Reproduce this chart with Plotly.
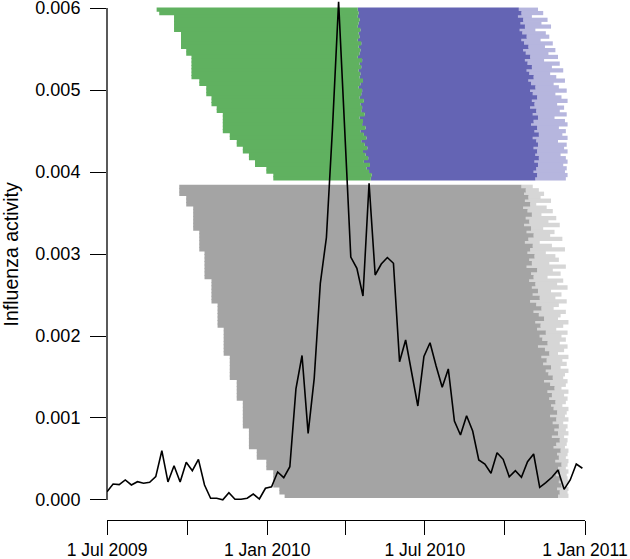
import pandas as pd
import plotly.graph_objects as go

# ---------------- data ----------------
# weekly influenza activity (starting 1 Jul 2009)
flu_start = "2009-07-01"
flu_values = [
    0.000101, 0.000195, 0.000187, 0.000244, 0.000183, 0.000223, 0.000204, 0.000216,
    0.000284, 0.000601, 0.000220, 0.000418, 0.000220, 0.000460, 0.000357, 0.000496,
    0.000183, 0.000021, 0.000021, 0.000002, 0.000089, 0.000009, 0.000009, 0.000021,
    0.000073, 0.000012, 0.000143, 0.000162, 0.000341, 0.000272, 0.000406, 0.001354,
    0.001762, 0.000813, 0.001484, 0.002643, 0.003201, 0.004537, 0.006077, 0.004573,
    0.002963, 0.002826, 0.002488, 0.003862, 0.002744, 0.002878, 0.002957, 0.002887,
    0.001687, 0.001951, 0.001565, 0.001146, 0.001750, 0.001918, 0.001634, 0.001374,
    0.001598, 0.000963, 0.000793, 0.001028, 0.000841, 0.000488, 0.000439, 0.000326,
    0.000577, 0.000496, 0.000284, 0.000357, 0.000277, 0.000467, 0.000561, 0.000155,
    0.000211, 0.000277, 0.000366, 0.000130, 0.000244, 0.000439, 0.000387,
]

# day offsets below are counted from this origin
day_origin = "2009-07-01"

# gray forecast bars: start date of each step and number of rows in it (top -> bottom)
gray_step_start = ["2009-09-22", "2009-09-30", "2009-10-08", "2009-10-15", "2009-10-21",
                   "2009-10-29", "2009-11-05", "2009-11-12", "2009-11-19", "2009-11-27",
                   "2009-12-04", "2009-12-11", "2009-12-20", "2009-12-31", "2010-01-08",
                   "2010-01-15", "2010-01-21"]
gray_step_rows = [3, 3, 7, 6, 8, 7, 7, 8, 7, 6, 8, 6, 3, 3, 5, 2, 1]
gray_dark_end = [
    476, 481, 479, 484, 480, 486, 478, 483, 488, 481,
    485, 479, 487, 482, 490, 484, 480, 489, 486, 483,
    491, 485, 488, 482, 494, 487, 490, 485, 492, 488,
    495, 489, 497, 486, 493, 499, 490, 496, 502, 492,
    498, 494, 504, 497, 500, 506, 495, 503, 508, 499,
    505, 501, 510, 504, 507, 512, 502, 509, 514, 506,
    511, 508, 515, 510, 513, 517, 509, 516, 512, 519,
    514, 518, 511, 520, 516, 513, 521, 517, 519, 515,
    522, 518, 520, 516, 521, 519, 522, 517, 520, 518]
gray_light_end = [
    489, 496, 502, 498, 510, 493, 505, 512, 499, 516,
    507, 520, 501, 514, 509, 523, 497, 511, 526, 504,
    515, 519, 508, 527, 512, 521, 506, 524, 517, 529,
    510, 522, 515, 528, 519, 513, 527, 521, 518, 530,
    524, 516, 529, 522, 527, 520, 529, 525, 518, 530,
    523, 528, 521, 530, 526, 524, 529, 527, 522, 530,
    525, 529, 527, 523, 530, 528, 526, 530, 524, 529,
    527, 530, 525, 529, 528, 526, 530, 529, 527, 530,
    529, 527, 530, 528, 529, 530, 528, 530, 529, 530]

# green / purple bars
green_step_start = ["2009-08-27", "2009-08-30", "2009-09-16", "2009-09-24", "2009-09-30",
                    "2009-10-06", "2009-10-15", "2009-10-23", "2009-10-29", "2009-11-04",
                    "2009-11-11", "2009-11-19", "2009-11-27", "2009-12-04", "2009-12-11",
                    "2009-12-18", "2009-12-31", "2010-01-08", "2010-01-15"]
green_step_rows = [1, 1, 5, 5, 2, 7, 2, 3, 3, 2, 6, 2, 2, 2, 2, 2, 2, 2, 1]
green_end = [
    288, 289, 288, 290, 289, 288, 291, 289, 290, 288,
    292, 289, 291, 290, 288, 293, 290, 292, 289, 291,
    290, 294, 291, 289, 293, 292, 290, 295, 291, 293,
    292, 296, 290, 294, 293, 297, 291, 295, 298, 292,
    296, 299, 294, 297, 300, 295, 302, 298, 301, 304, 303]
purple_dark_end = [
    473, 476, 472, 478, 475, 480, 474, 477, 482, 476,
    479, 484, 478, 481, 486, 480, 483, 488, 482, 485,
    490, 484, 487, 492, 486, 489, 494, 488, 491, 486,
    493, 489, 495, 490, 487, 494, 491, 496, 489, 493,
    495, 490, 494, 492, 496, 491, 495, 493, 490, 494, 492]
purple_light_end = [
    495, 501, 488, 506, 499, 510, 492, 504, 508, 498,
    512, 503, 515, 507, 518, 502, 520, 511, 524, 509,
    516, 526, 513, 519, 528, 515, 522, 529, 517, 525,
    520, 528, 514, 526, 529, 519, 527, 523, 529, 518,
    528, 525, 529, 521, 527, 529, 524, 528, 526, 529, 527]

# vertical extents of the two bar blocks (activity units)
gray_band = (0.00003, 0.00384)
green_band = (0.00386, 0.00600)

x_tick_vals = ["2009-07-01", "2009-10-01", "2010-01-01", "2010-04-01",
               "2010-07-01", "2010-10-01", "2011-01-01"]
x_tick_text = ["1 Jul 2009", "", "1 Jan 2010", "", "1 Jul 2010", "", "1 Jan 2011"]
y_tick_vals = [0.000, 0.001, 0.002, 0.003, 0.004, 0.005, 0.006]

# ---------------- build ----------------
origin = pd.Timestamp(day_origin)


def expand(starts, counts):
    out = []
    for s, c in zip(starts, counts):
        out += [pd.Timestamp(s)] * c
    return out


def days_to_ts(lst):
    return [origin + pd.Timedelta(days=d) for d in lst]


def rows_y(band, n):
    lo, hi = band
    h = (hi - lo) / n
    return [hi - (i + 0.5) * h for i in range(n)], h


def ms(a, b):
    return [(bb - aa).total_seconds() * 1000 for aa, bb in zip(a, b)]


def hbar(y, start, end, h, color):
    return go.Bar(orientation="h", y=y, base=[s.strftime("%Y-%m-%d %H:%M") for s in start],
                  x=ms(start, end), width=h * 1.25, marker=dict(color=color, line=dict(width=0)),
                  hoverinfo="skip", showlegend=False)


fig = go.Figure()

g_start = expand(gray_step_start, gray_step_rows)
g_y, g_h = rows_y(gray_band, len(g_start))
g_dark = days_to_ts(gray_dark_end)
g_light = days_to_ts(gray_light_end)
fig.add_trace(hbar(g_y, g_dark, g_light, g_h, "#d6d6d6"))
fig.add_trace(hbar(g_y, g_start, g_dark, g_h, "#a4a4a4"))

gr_start = expand(green_step_start, green_step_rows)
gr_y, gr_h = rows_y(green_band, len(gr_start))
gr_end = days_to_ts(green_end)
p_dark = days_to_ts(purple_dark_end)
p_light = days_to_ts(purple_light_end)
fig.add_trace(hbar(gr_y, p_dark, p_light, gr_h, "#b6b6de"))
fig.add_trace(hbar(gr_y, gr_end, p_dark, gr_h, "#6464b4"))
fig.add_trace(hbar(gr_y, gr_start, gr_end, gr_h, "#60b160"))

flu_dates = pd.date_range(flu_start, periods=len(flu_values), freq="7D")
fig.add_trace(go.Scatter(x=flu_dates, y=flu_values, mode="lines",
                         line=dict(color="black", width=1.6), showlegend=False))

font = "Liberation Sans, Arial, Helvetica, sans-serif"
fig.update_layout(
    width=630, height=559,
    margin=dict(l=107, r=45, t=0, b=39),
    paper_bgcolor="white", plot_bgcolor="white",
    barmode="overlay",
    font=dict(family=font, size=18, color="black"),
    xaxis=dict(type="date", range=["2009-07-01", "2011-01-01"], showgrid=False, zeroline=False,
               showline=True, linecolor="black", linewidth=1.3,
               ticks="outside", ticklen=14, tickwidth=1.3, tickcolor="black",
               tickmode="array", tickvals=x_tick_vals, ticktext=x_tick_text,
               tickfont=dict(size=17.5), automargin=False, ticklabeloverflow="allow"),
    yaxis=dict(range=[-0.000244, 0.0060976], showgrid=False, zeroline=False, showline=False,
               ticks="outside", ticklen=16, tickwidth=1.3, tickcolor="black",
               tickmode="array", tickvals=y_tick_vals, tickformat=".3f",
               tickfont=dict(size=18), ticklabelstandoff=6, automargin=False,
               ticklabeloverflow="allow"),
)
# detached y axis line spanning 0 .. 0.006
fig.add_shape(type="line", xref="paper", yref="y", x0=0, x1=0, y0=0, y1=0.006,
              line=dict(color="black", width=1.3))
fig.add_annotation(text="Influenza activity", xref="paper", yref="y", x=-0.2, y=0.003,
                   textangle=-90, showarrow=False, xanchor="center", yanchor="middle",
                   font=dict(size=19.5, family=font))

fig.write_html("out.html", config={"displayModeBar": False},
               post_script="document.body.style.margin='0';")
